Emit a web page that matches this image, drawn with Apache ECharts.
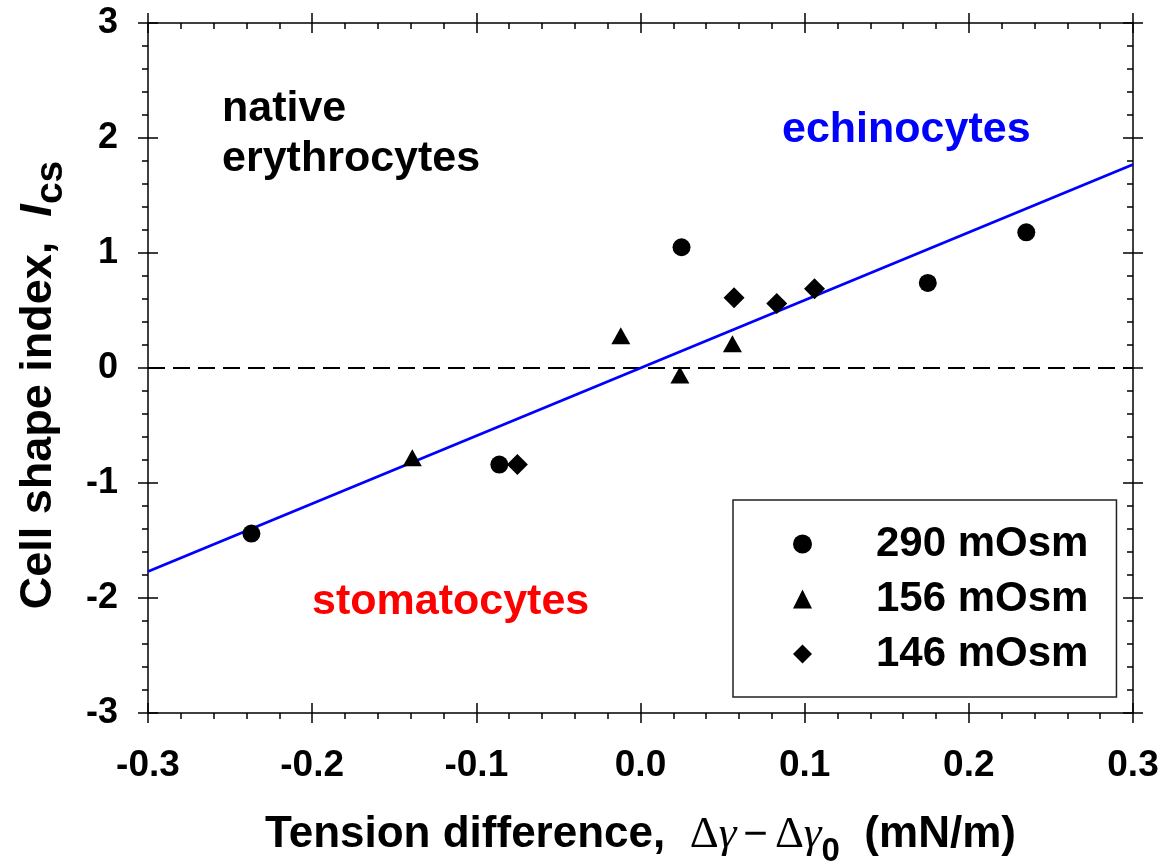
<!DOCTYPE html>
<html><head><meta charset="utf-8">
<script src="https://cdn.jsdelivr.net/npm/echarts@6/dist/echarts.min.js"></script>
<style>html,body{margin:0;padding:0;background:#fff}#c{width:1163px;height:864px}</style>
</head><body><div id="c"></div>
<script>
// ---- data ----
const xTickLabels = ['-0.3','-0.2','-0.1','0.0','0.1','0.2','0.3'];
const yTickLabels = ['-3','-2','-1','0','1','2','3'];
const seriesNames = ['290 mOsm','156 mOsm','146 mOsm'];
const x290 = [-0.237, -0.086, 0.025, 0.175, 0.235];
const y290 = [-1.44, -0.84, 1.05, 0.74, 1.18];
const x156 = [-0.139, -0.012, 0.024, 0.056];
const y156 = [-0.78, 0.28, -0.06, 0.21];
const x146 = [-0.075, 0.057, 0.083, 0.106];
const y146 = [-0.84, 0.61, 0.56, 0.69];
const fitX = [-0.3, 0.3];
const fitY = [-1.77, 1.77];
const zeroX = [-0.3, 0.3];
const zeroY = [0, 0];

const zip = (a, b) => a.map((v, i) => [v, b[i]]);
const SANS = '"Liberation Sans", Arial, Helvetica, sans-serif';
const SERIF = '"Liberation Serif", "Times New Roman", serif';
const BLK = '#000';
const LW = 1.5;

function baseAxis(extra) {
  return Object.assign({
    type: 'value',
    splitLine: { show: false },
    minorSplitLine: { show: false },
    axisLine: { show: false, onZero: false, lineStyle: { color: BLK, width: LW } },
    axisTick: { show: true, length: 10, inside: false, lineStyle: { color: BLK, width: LW } },
    minorTick: { show: false },
    axisLabel: { show: false },
    nameMoveOverlap: false
  }, extra);
}

const xCommon = { min: -0.3, max: 0.3, interval: 0.1 };
const yCommon = { min: -3, max: 3, interval: 1 };

const xAxes = [
  baseAxis(Object.assign({}, xCommon, {
    position: 'bottom',
    axisLine: { show: true, onZero: false, lineStyle: { color: BLK, width: LW } },
    axisTick: { show: true, length: 10, inside: false, lineStyle: { color: BLK, width: LW } },
    minorTick: { show: true, splitNumber: 5, length: 6, lineStyle: { color: BLK, width: LW } },
    axisLabel: { show: true, formatter: (v, i) => xTickLabels[i], fontSize: 37, fontWeight: 'bold', fontFamily: SANS, color: BLK, margin: 34 },
    name: '{b|Tension difference,  }{s|\u0394}{si|\u03b3}{m|\u2212}{s|\u0394}{si|\u03b3}{sub|0}{b|  (mN/m)}',
    nameLocation: 'middle',
    nameGap: 97,
    nameTextStyle: {
      rich: {
        b: { fontFamily: SANS, fontWeight: 'bold', fontSize: 44, color: BLK, lineHeight: 50 },
        s: { fontFamily: SERIF, fontSize: 45, color: BLK, lineHeight: 50 },
        si: { fontFamily: SERIF, fontStyle: 'italic', fontSize: 45, color: BLK, lineHeight: 50 },
        m: { fontFamily: SANS, fontSize: 42, color: BLK, lineHeight: 50, padding: [0, 7, 0, 7] },
        sub: { fontFamily: SANS, fontWeight: 'bold', fontSize: 33, color: BLK, lineHeight: 50, padding: [34, 0, 0, 0] }
      }
    }
  })),
  baseAxis(Object.assign({}, xCommon, { position: 'bottom', axisTick: { show: true, length: 10, inside: true, lineStyle: { color: BLK, width: LW } } })),
  baseAxis(Object.assign({}, xCommon, {
    position: 'top',
    axisLine: { show: true, onZero: false, lineStyle: { color: BLK, width: LW } },
    axisTick: { show: true, length: 10, inside: true, lineStyle: { color: BLK, width: LW } },
    minorTick: { show: true, splitNumber: 5, length: 6, lineStyle: { color: BLK, width: LW } }
  })),
  baseAxis(Object.assign({}, xCommon, { position: 'top', axisTick: { show: true, length: 10, inside: false, lineStyle: { color: BLK, width: LW } } }))
];

const yAxes = [
  baseAxis(Object.assign({}, yCommon, {
    position: 'left',
    axisLine: { show: true, onZero: false, lineStyle: { color: BLK, width: LW } },
    axisTick: { show: true, length: 10, inside: false, lineStyle: { color: BLK, width: LW } },
    minorTick: { show: true, splitNumber: 5, length: 6, lineStyle: { color: BLK, width: LW } },
    axisLabel: { show: true, formatter: (v, i) => yTickLabels[i], fontSize: 36, fontWeight: 'bold', fontFamily: SANS, color: BLK, margin: 30 },
    name: '{b|Cell shape index,  }{i|I}{sub|cs}',
    nameLocation: 'middle',
    nameRotate: 90,
    nameGap: 84,
    nameTextStyle: {
      padding: [0, 34, 0, 0],
      rich: {
        b: { fontFamily: SANS, fontWeight: 'bold', fontSize: 45, color: BLK, lineHeight: 50 },
        i: { fontFamily: SANS, fontWeight: 'bold', fontStyle: 'italic', fontSize: 45, color: BLK, lineHeight: 50 },
        sub: { fontFamily: SANS, fontWeight: 'bold', fontSize: 39, color: BLK, lineHeight: 50, padding: [24, 0, 0, 0] }
      }
    }
  })),
  baseAxis(Object.assign({}, yCommon, { position: 'left', axisTick: { show: true, length: 10, inside: true, lineStyle: { color: BLK, width: LW } } })),
  baseAxis(Object.assign({}, yCommon, {
    position: 'right',
    axisLine: { show: true, onZero: false, lineStyle: { color: BLK, width: LW } },
    axisTick: { show: true, length: 10, inside: true, lineStyle: { color: BLK, width: LW } },
    minorTick: { show: true, splitNumber: 5, length: 6, lineStyle: { color: BLK, width: LW } }
  })),
  baseAxis(Object.assign({}, yCommon, { position: 'right', axisTick: { show: true, length: 10, inside: false, lineStyle: { color: BLK, width: LW } } }))
];

const chart = echarts.init(document.getElementById('c'), null, { renderer: 'canvas' });
chart.setOption({
  backgroundColor: '#fff',
  animation: false,
  grid: { left: 148, right: 30, top: 23, bottom: 151, containLabel: false, outerBoundsMode: 'none' },
  xAxis: xAxes,
  yAxis: yAxes,
  legend: {
    data: seriesNames,
    orient: 'vertical',
    left: 733, top: 500,
    itemWidth: 19, itemHeight: 19, itemGap: 7,
    symbolKeepAspect: true,
    padding: [20, 28, 19, 60],
    borderColor: '#222', borderWidth: 1.5, backgroundColor: '#fff',
    selectedMode: false,
    textStyle: { fontFamily: SANS, fontWeight: 'bold', fontSize: 42, color: BLK, lineHeight: 48, padding: [0, 0, 0, 59] }
  },
  graphic: [
    { type: 'text', left: 222, top: 84, z: 10, style: { text: 'native\nerythrocytes', font: 'bold 43px ' + SANS, fill: BLK, lineHeight: 50 } },
    { type: 'text', left: 782, top: 105, z: 10, style: { text: 'echinocytes', font: 'bold 43px ' + SANS, fill: '#0000ff', lineHeight: 50 } },
    { type: 'text', left: 312, top: 577, z: 10, style: { text: 'stomatocytes', font: 'bold 43px ' + SANS, fill: '#ff0000', lineHeight: 50 } }
  ],
  series: [
    { name: 'zero', type: 'line', data: zip(zeroX, zeroY), showSymbol: false, silent: true, z: 1,
      lineStyle: { color: BLK, width: 2, type: [17, 8] } },
    { name: 'fit', type: 'line', data: zip(fitX, fitY), showSymbol: false, silent: true, z: 2,
      lineStyle: { color: '#0000ff', width: 2.8 } },
    { name: seriesNames[0], type: 'scatter', data: zip(x290, y290), symbol: 'circle', symbolSize: 18, z: 5,
      itemStyle: { color: BLK, opacity: 1 } },
    { name: seriesNames[1], type: 'scatter', data: zip(x156, y156), symbol: 'triangle', symbolSize: [19, 17], z: 5,
      itemStyle: { color: BLK, opacity: 1 } },
    { name: seriesNames[2], type: 'scatter', data: zip(x146, y146), symbol: 'diamond', symbolSize: [21, 21], z: 5,
      itemStyle: { color: BLK, opacity: 1 } }
  ]
});
</script>
</body></html>
